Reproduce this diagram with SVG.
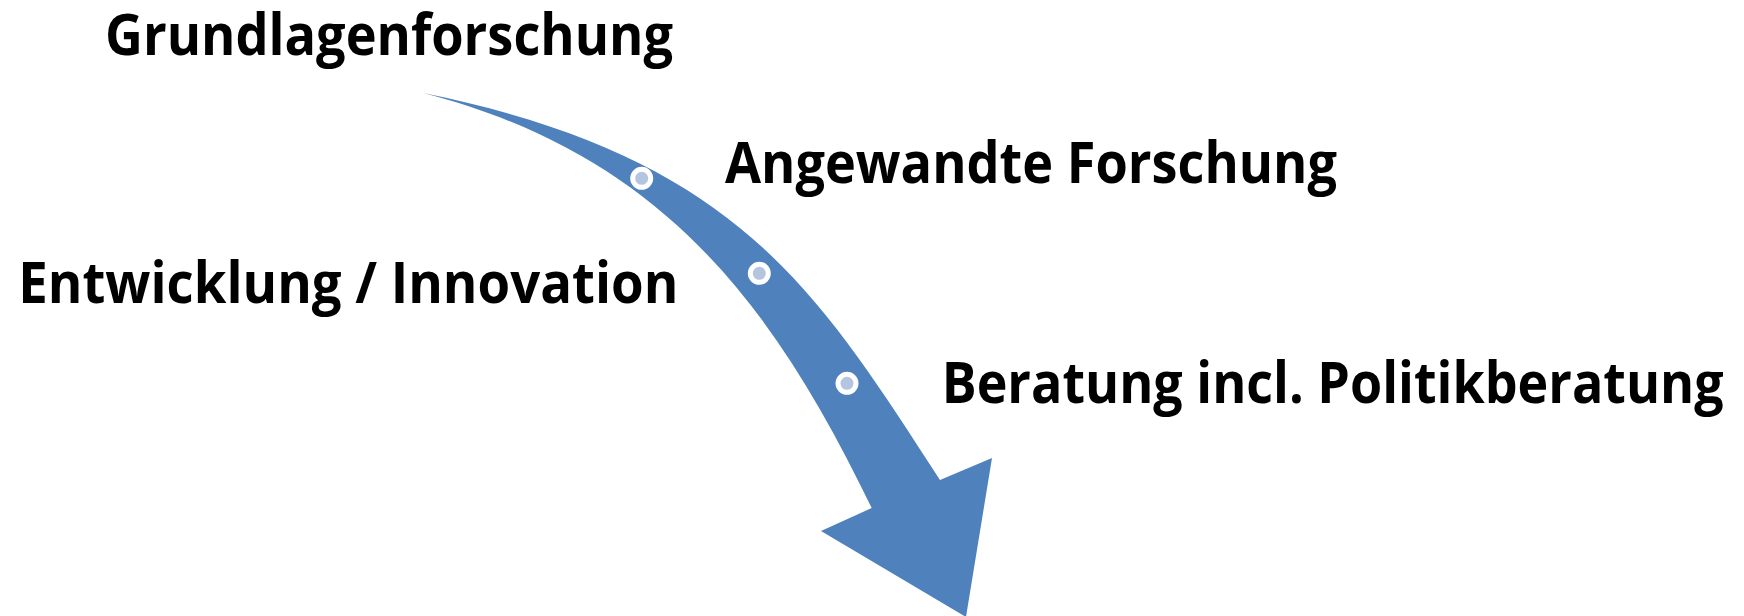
<svg xmlns="http://www.w3.org/2000/svg" width="1744" height="616" viewBox="0 0 1744 616">
  <style>
    .lbl { font-family: "Open Sans", "Noto Sans", "Liberation Sans", sans-serif; font-weight: 700; font-size: 57.5px; fill: #000000; }
    .band { fill: #4F81BD; }
    .dot { fill: #B4C5E0; stroke: #FFFFFF; stroke-width: 5; }
  </style>
  <rect width="1744" height="616" fill="#FFFFFF"/>
  <g id="connectors">
    <path class="band" d="M423,93 C735,156 815,287 940,480 L992,458 L966,617 L821,531 L871.7,508 C776,310 665,155 423,93 Z"/>
    <circle class="dot" cx="641.7" cy="178.3" r="9"/>
    <circle class="dot" cx="759.3" cy="273.3" r="9"/>
    <circle class="dot" cx="847" cy="383.3" r="9"/>
  </g>
  <g id="node-grundlagenforschung">
    <text class="lbl" x="105" y="55" textLength="568" lengthAdjust="spacingAndGlyphs">Grundlagenforschung</text>
  </g>
  <g id="node-angewandte-forschung">
    <text class="lbl" x="725" y="183.3" textLength="612" lengthAdjust="spacingAndGlyphs">Angewandte Forschung</text>
  </g>
  <g id="node-entwicklung-innovation">
    <text class="lbl" x="18.3" y="303.3" textLength="660" lengthAdjust="spacingAndGlyphs">Entwicklung / Innovation</text>
  </g>
  <g id="node-beratung">
    <text class="lbl" x="941.7" y="403.3" textLength="782" lengthAdjust="spacingAndGlyphs">Beratung incl. Politikberatung</text>
  </g>
</svg>
